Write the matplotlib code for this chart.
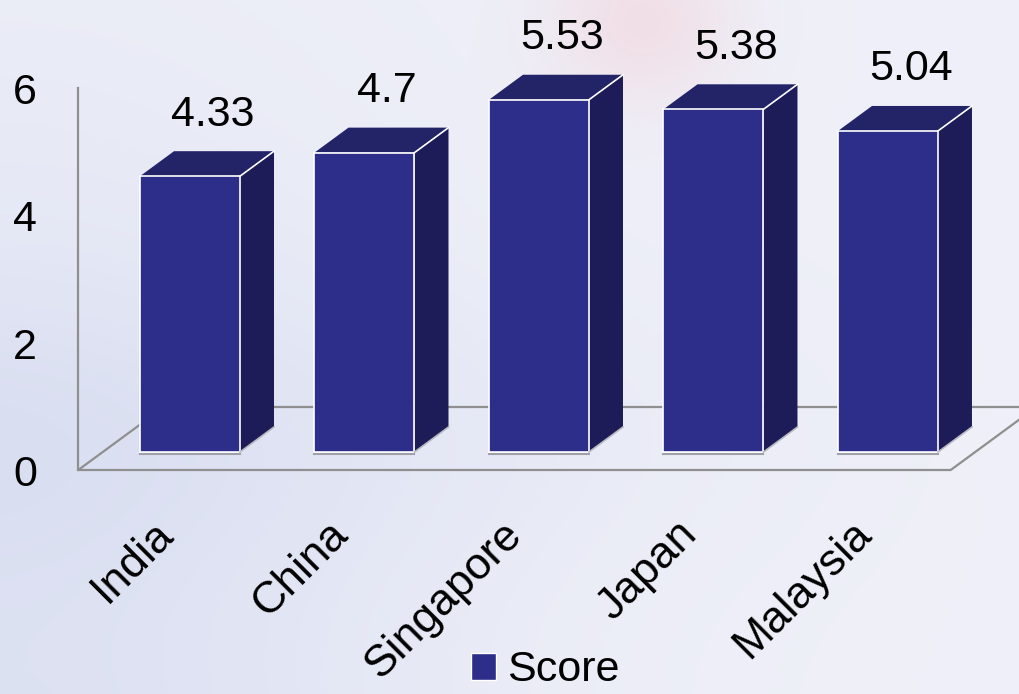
import numpy as np
import matplotlib
matplotlib.use('Agg')
import matplotlib.pyplot as plt
from matplotlib.patches import Polygon, Patch
from matplotlib.transforms import offset_copy

# Scores par pays
countries = ['India', 'China', 'Singapore', 'Japan', 'Malaysia']
scores = [4.33, 4.7, 5.53, 5.38, 5.04]
y_ticks = [0, 2, 4, 6]
series_name = 'Score'

plt.rcParams['font.family'] = ['Liberation Sans', 'DejaVu Sans']
FS = 31

FRONT = '#2d2d8a'
TOP = '#232368'
SIDE = '#1e1c58'
FLOOR = '#8f8f8f'

# vecteur de profondeur (perspective oblique) : 1 unité -> (DX catégories, DY points de score)
DX, DY = 0.195, 0.3925
BAR_W = 0.573
FLOOR_FRONT = -0.72
FLOOR_BACK = 1.8

fig = plt.figure(figsize=(10.19, 6.94), dpi=100)

# fond dégradé
H, W = 694, 1019
u = np.linspace(0, 1, W)[None, :]
v = np.linspace(0, 1, H)[:, None]
base = np.array([0.937, 0.941, 0.973])
dark = np.array([0.850, 0.870, 0.945])
s = 0.8 * np.exp(-((u - 0.0) / 0.45) ** 2) * (0.25 + 0.75 * v) + 0.4 * np.exp(-((v - 0.62) / 0.22) ** 2) * (1 - u)
s = np.clip(s, 0, 1)[..., None]
img = base * (1 - s) + dark * s
p = np.exp(-(((u - 0.63) / 0.09) ** 2 + ((v - 0.03) / 0.12) ** 2))[..., None]
pink = np.array([0.95, 0.86, 0.89])
img = img * (1 - 0.8 * p) + pink * 0.8 * p

bg = fig.add_axes([0, 0, 1, 1])
bg.imshow(img, aspect='auto', extent=[0, 1, 0, 1], origin='upper')
bg.set_xlim(0, 1)
bg.set_ylim(0, 1)
bg.axis('off')

ax = fig.add_axes([0, 0, 1, 1])
ax.patch.set_alpha(0)
ax.set_xlim(-1.0888, 4.751)
ax.set_ylim(-3.799, 7.096)
ax.axis('off')

x = np.arange(len(countries))


def shift(px, py, d):
    return px + d * DX, py + d * DY


# sol et axe vertical
x0, x1 = -0.5, len(countries) - 0.5
fl0 = shift(x0, 0, FLOOR_FRONT)
fr0 = shift(x1, 0, FLOOR_FRONT)
bl0 = shift(x0, 0, FLOOR_BACK)
br0 = shift(x1, 0, FLOOR_BACK)
for a, b in [(fl0, fr0), (fr0, br0), (bl0, br0), (fl0, bl0)]:
    ax.plot([a[0], b[0]], [a[1], b[1]], color=FLOOR, lw=1.6, zorder=1, solid_capstyle='butt')
top_axis = shift(x0, max(y_ticks), FLOOR_FRONT)
ax.plot([fl0[0], top_axis[0]], [fl0[1], top_axis[1]], color=FLOOR, lw=1.6, zorder=1)

ytrans = offset_copy(ax.transData, fig, x=-41, y=-16, units='dots')
for t in y_ticks:
    tx, ty = shift(x0, t, FLOOR_FRONT)
    ax.text(tx, ty, str(t), ha='right', va='baseline', fontsize=FS, transform=ytrans)

# barres 3D
for xi, val in zip(x, scores):
    l, r = xi - BAR_W / 2, xi + BAR_W / 2
    ax.add_patch(Polygon([(r, 0), (r + DX, DY), (r + DX, val + DY), (r, val)],
                         closed=True, facecolor=SIDE, edgecolor='none', zorder=2))
    ax.add_patch(Polygon([(l, val), (r, val), (r + DX, val + DY), (l + DX, val + DY)],
                         closed=True, facecolor=TOP, edgecolor='none', zorder=2))
    ax.plot([r, r + DX], [val, val + DY], color='white', lw=1.2, zorder=4)
    ax.plot([r, r + DX], [0, DY], color='#b8b8c0', lw=1.2, zorder=4)
    ax.plot([l, r], [-0.03, -0.03], color='#a0a0a8', lw=1.5, zorder=2)

ax.bar(x, scores, width=BAR_W, color=FRONT, edgecolor='white', linewidth=1.2, zorder=3)

for xi, val in zip(x, scores):
    ax.text(xi + 0.13, val + DY + 0.40, f'{val:g}', ha='center', va='baseline', fontsize=FS, zorder=5)

xtrans = offset_copy(ax.transData, fig, x=-15, y=-84, units='dots')
for xi, name in zip(x, countries):
    ax.text(xi, 0, name, rotation=45, rotation_mode='anchor', ha='right', va='baseline',
            fontsize=FS + 1, transform=xtrans)

fig.legend(handles=[Patch(facecolor=FRONT, edgecolor='white', label=series_name)],
           loc='center', bbox_to_anchor=(0.535, 0.034), frameon=False, fontsize=FS,
           handlelength=0.58, handleheight=0.58, handletextpad=0.25, borderpad=0)

fig.savefig('out.png', dpi=100)
